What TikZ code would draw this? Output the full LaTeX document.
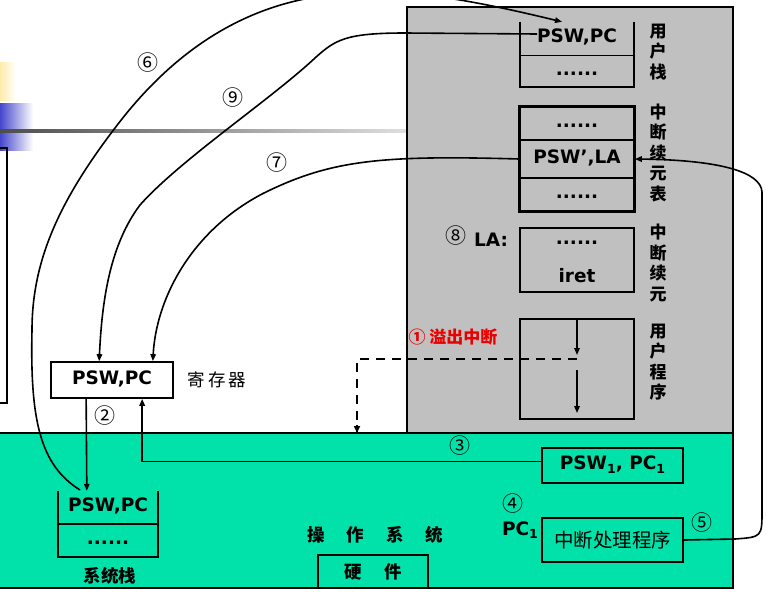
\documentclass[tikz,border=0pt]{standalone}
\usepackage{fontspec}
\setmainfont{DejaVu Sans}
\newfontfamily\cjk{Noto Sans CJK SC}
\usetikzlibrary{arrows.meta,calc}
\definecolor{usergray}{RGB}{192,192,192}
\definecolor{osgreen}{RGB}{0,226,170}
\definecolor{yband}{RGB}{255,236,170}
\definecolor{bband}{RGB}{70,70,205}
\definecolor{irqred}{RGB}{235,0,0}
\newcommand\psw{\fontsize{18.5}{21}\selectfont\bfseries}
\newcommand\subone{\raisebox{-3.5pt}{\fontsize{12.5}{12}\selectfont 1}}
\begin{document}
\begin{tikzpicture}[x=1pt,y=-1pt,
  cell/.style={minimum width=114pt, inner sep=0pt, font=\psw, execute at begin node=\strut},
  boxed/.style={draw, line width=1.7pt},
  stackline/.style={line width=2.5pt},
  conn/.style={line width=1.6pt},
  arr/.style={conn, -{Triangle[length=7pt,width=5.5pt]}},
  dashline/.style={line width=2.5pt, dash pattern=on 9pt off 7pt},
  circnum/.style={font=\cjk\fontsize{21}{21}\selectfont, inner sep=0pt},
  vlabel/.style={align=center, inner sep=0pt, font=\cjk\fontsize{17}{20.5}\selectfont\bfseries},
  cjklabel/.style={inner sep=0pt, font=\cjk\fontsize{17.5}{20}\selectfont\bfseries}
]
\useasboundingbox (0,0) rectangle (767,592);
\clip (0,0) rectangle (767,592);
\fill[white] (0,0) rectangle (767,592);
% background decoration
\shade[left color=yband, right color=white] (0,62) rectangle (16,100);
\shade[left color=bband, right color=white] (0,103) rectangle (33,150);
\shade[left color=gray!60!black, right color=gray!25] (0,129.8) rectangle (407,132.2);
\draw[line width=1.4pt] (-5,148) rectangle (7,403);
% regions
\draw[fill=usergray, line width=1.4pt] (407,7) rectangle (733,433);
\draw[fill=osgreen, line width=1.4pt] (-5,433) rectangle (733,588);

% user stack
\node[cell, minimum height=33pt] (us1) at (577,38.5) {PSW,PC};
\node[cell, minimum height=32pt] (us2) at (577,71) {......};
\draw[stackline] (us1.north west) |- (us2.south east) -- (us1.north east);
\draw[line width=1.4pt] (us1.south west) -- (us1.south east);
\node[vlabel] (lab1) at (658,52) {用\\户\\栈};

% interrupt continuation table
\node[cell, boxed, minimum height=33pt] (tb1) at (577,123.5) {......};
\node[cell, boxed, minimum height=38pt] (tb2) at (577,159) {PSW’,LA};
\node[cell, boxed, minimum height=33pt] (tb3) at (577,194.5) {......};
\draw[line width=2.5pt] (tb1.north west) rectangle (tb3.south east);
\node[vlabel] (lab2) at (658,153) {中\\断\\续\\元\\表};

% continuation routine
\node[boxed, minimum width=114pt, minimum height=64pt, inner sep=0pt] (la) at (577,260) {};
\node[font=\psw, inner sep=0pt] (la1) at (577,243) {......};
\node[font=\psw, inner sep=0pt] (la2) at (577,276) {iret};
\node[circnum] (n8) at (456,236) {⑧};
\node[font=\psw, inner sep=0pt] (lalab) at (491,240) {LA:};
\node[vlabel] (lab3) at (658,263) {中\\断\\续\\元};

% user program
\node[boxed, minimum width=114pt, minimum height=100pt, inner sep=0pt] (up) at (577,369) {};
\coordinate (upm1) at (577,355);
\coordinate (upm2) at (577,370);
\coordinate (upe) at (577,413);
\draw[arr] (up.north) -- (upm1);
\draw[arr] (upm2) -- (upe);
\node[vlabel] (lab4) at (658,362) {用\\户\\程\\序};

% overflow interrupt
\coordinate (irq) at (577,359);
\coordinate (irqc) at (357,359);
\coordinate (ostop) at (357,433);
\draw[dashline] (irq) -- (irqc) -- (ostop);
\draw[conn, -{Triangle[length=7pt,width=6pt]}] (357,425) -- (ostop);
\node[inner sep=0pt, text=irqred, font=\cjk\fontsize{17}{18}\selectfont\bfseries] (irqlab) at (453,337) {① 溢出中断};

% register
\node[cell, boxed, minimum width=122pt, minimum height=36pt] (reg) at (112,380) {PSW,PC};
\node[cjklabel, font=\cjk\fontsize{17.5}{20}\selectfont] (reglab) at (217,380) {寄\hspace{3pt}存\hspace{3pt}器};

% system stack
\node[cell, minimum width=100pt, minimum height=33pt] (ss1) at (108,507.5) {PSW,PC};
\node[cell, minimum width=100pt, minimum height=33pt] (ss2) at (108,540.5) {......};
\draw[stackline] (ss1.north west) |- (ss2.south east) -- (ss1.north east);
\draw[line width=1.7pt] (ss1.south west) -- (ss1.south east);
\node[cjklabel] (sslab) at (110,576) {系统栈};

% OS side
\node[cell, boxed, minimum width=141pt, minimum height=35pt] (p1) at (612.5,465.5) {PSW\subone, PC\subone};
\node[boxed, minimum width=141pt, minimum height=44pt, inner sep=0pt, font=\cjk\fontsize{19.5}{22}\selectfont] (proc) at (612.5,540) {中断处理程序};
\node[font=\psw, inner sep=0pt] (pc1) at (520,530) {PC\subone};
\node[cjklabel] (oslab) at (375,535) {操\hspace{22pt}作\hspace{22pt}系\hspace{22pt}统};
\node[boxed, minimum width=110pt, minimum height=33pt, inner sep=0pt, cjklabel] (hw) at (373,571.5) {硬\hspace{22pt}件};

% numbers
\node[circnum] (n6) at (148,63) {⑥};
\node[circnum] (n9) at (233,98) {⑨};
\node[circnum] (n7) at (277,163) {⑦};
\node[circnum] (n2) at (105,416) {②};
\node[circnum] (n3) at (460,446) {③};
\node[circnum] (n4) at (513,504) {④};
\node[circnum] (n5) at (702,523) {⑤};

% connectors
% (2) register -> system stack
\draw[arr] ([xshift=36pt]reg.south west) -- ([xshift=29pt]ss1.north west);
% (3) PSW1,PC1 -> register
\draw[arr] ([yshift=4pt]p1.west) -| ([xshift=92pt]reg.south west);
% (5) handler -> table entry
\draw[arr] (proc.east) -- (735,539) .. controls (762,537) .. (762,510) -- (762,192)
  .. controls (761,172) and (720,160) .. (tb2.east);
% (7) table entry -> register
\draw[arr] (tb2.west) .. controls (380,155) and (330,160) .. (262,194)
  .. controls (190,232) and (156,300) .. ([xshift=-21pt]reg.north east);
% (9) user stack -> register
\coordinate (us9) at (537,34);
\draw[arr] (us9) -- (405,33) .. controls (345,33) and (335,40) .. (315,58)
  .. controls (270,100) and (180,160) .. (140,205)
  .. controls (110,245) and (102,300) .. ([xshift=49pt]reg.north west);
% (6) system stack -> user stack
\coordinate (ss6) at (80,490);
\draw[arr] (ss6) .. controls (40,465) and (30,420) .. (32,330)
  .. controls (32,260) and (60,200) .. (115,128)
  .. controls (170,55) and (240,5) .. (330,-5)
  .. controls (400,-12) and (455,-4) .. ([xshift=-15pt]us1.north);
\end{tikzpicture}
\end{document}
